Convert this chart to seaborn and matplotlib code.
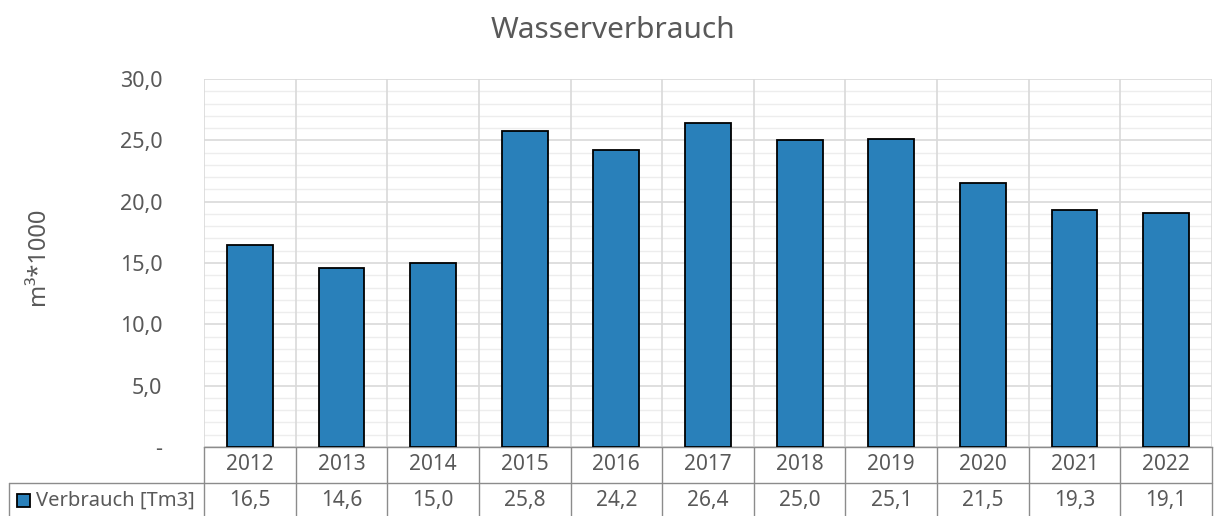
import matplotlib
matplotlib.use("Agg")
import matplotlib.pyplot as plt
import matplotlib.transforms as mtransforms
from matplotlib.lines import Line2D
from matplotlib.patches import Rectangle
import seaborn as sns
import pandas as pd
import numpy as np

years = ["2012", "2013", "2014", "2015", "2016", "2017", "2018", "2019", "2020", "2021", "2022"]
verbrauch = [16.5, 14.6, 15.0, 25.8, 24.2, 26.4, 25.0, 25.1, 21.5, 19.3, 19.1]
series_name = "Verbrauch [Tm3]"
title = "Wasserverbrauch"
ylabel = "m³*1000"

sns.set_theme(style="white")
plt.rcParams['font.family'] = ['Noto Sans', 'DejaVu Sans']

TXT = "#595959"
BAR = "#2980BA"
GRID = "#D9D9D9"
TAB = "#8C8C8C"

fig = plt.figure(figsize=(12.25, 5.16), dpi=100)
ax = fig.add_axes([204/1225, 1-447/516, 1008/1225, 368/516])

df = pd.DataFrame({"Jahr": years, "Wert": verbrauch})
sns.barplot(data=df, x="Jahr", y="Wert", color=BAR, edgecolor="black",
            linewidth=1.3, width=0.5, saturation=1, ax=ax, zorder=3)

ax.set_xlim(-0.5, len(years) - 0.5)
ax.set_ylim(0, 30)
ax.set_yticks(np.arange(0, 31, 5))
ax.set_yticks(np.arange(0, 31, 1), minor=True)
ax.set_yticklabels(["-" if v == 0 else f"{v:.1f}".replace(".", ",") for v in np.arange(0, 31, 5)],
                   color=TXT, fontsize=15.5)
ax.tick_params(axis="y", which="both", length=0, pad=30)
ax.set_xticks([])
ax.set_xlabel("")
ax.set_ylabel("")
ax.yaxis.grid(True, which="major", color=GRID, linewidth=1.2, zorder=0)
ax.yaxis.grid(True, which="minor", color="#EDEDED", linewidth=1.0, zorder=0)
for s in ["top", "right", "left"]:
    ax.spines[s].set_visible(False)
ax.spines["bottom"].set_color(TAB)
ax.spines["bottom"].set_linewidth(1.0)

fig.text(0.5, 1-38/516, title, ha="center", va="baseline", color=TXT, fontsize=21.5)
fig.text(38/1225, 1-256/516, ylabel, ha="center", va="center", rotation=90, color=TXT, fontsize=17)

trans = mtransforms.blended_transform_factory(ax.transData, ax.transAxes)
y_year = -17.5/368
y_val = -53.5/368
y_sep = -36/368
y_bot = -70/368

# vertical boundaries: grid inside, table lines below
for i in range(len(years) + 1):
    x = i - 0.5
    ax.add_line(Line2D([x, x], [0, 1], transform=trans, color=GRID, linewidth=1.2, zorder=1))
    ax.add_line(Line2D([x, x], [0, y_bot], transform=trans, color=TAB, linewidth=1.0, clip_on=False))

x_left = (9 - 204) / 1008
ax.add_line(Line2D([x_left, 1], [y_sep, y_sep], transform=ax.transAxes, color=TAB, linewidth=1.0, clip_on=False))
ax.add_line(Line2D([x_left, x_left], [y_sep, y_bot], transform=ax.transAxes, color=TAB, linewidth=1.0, clip_on=False))

for i, (yr, v) in enumerate(zip(years, verbrauch)):
    ax.text(i, y_year, yr, transform=trans, ha="center", va="center", color=TXT, fontsize=15)
    ax.text(i, y_val, f"{v:.1f}".replace(".", ","), transform=trans, ha="center", va="center",
            color=TXT, fontsize=15)

# legend key in table
sq_x0 = (17 - 204) / 1008
sq_w = 13 / 1008
sq_h = 13 / 368
ax.add_patch(Rectangle((sq_x0, y_val - sq_h / 2), sq_w, sq_h, transform=ax.transAxes,
                       facecolor=BAR, edgecolor="black", linewidth=1.3, clip_on=False))
ax.text((36 - 204) / 1008, y_val, series_name, transform=ax.transAxes, ha="left", va="center",
        color=TXT, fontsize=14.5)

fig.savefig("out.png", dpi=100, facecolor="white")
